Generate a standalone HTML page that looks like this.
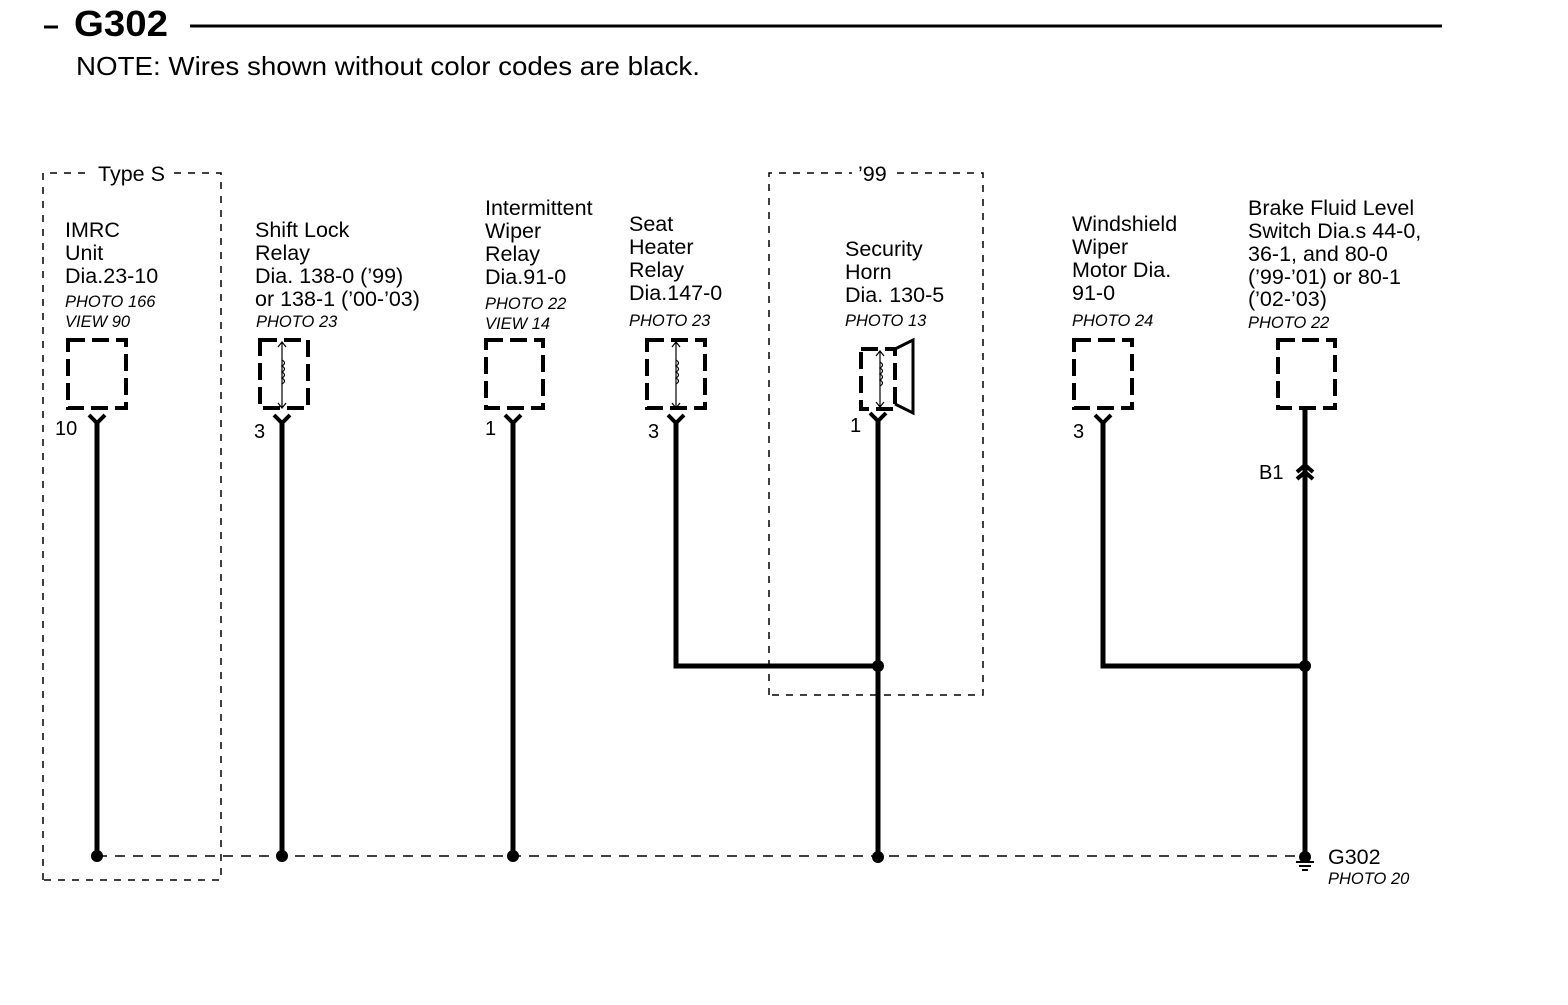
<!DOCTYPE html>
<html><head><meta charset="utf-8"><style>
body{margin:0;background:#fff}
svg text{font-family:"Liberation Sans",Arial,sans-serif;fill:#000}
.t{font-size:21.5px}
.p{font-size:16.5px;font-style:italic}
.n{font-size:20px}
</style></head><body>
<svg width="1568" height="1000" viewBox="0 0 1568 1000" xmlns="http://www.w3.org/2000/svg">
<line x1="44" y1="27" x2="58" y2="27" stroke="#000" stroke-width="3"/>
<text x="74" y="36" style="font-size:36px;font-weight:bold" textLength="94" lengthAdjust="spacingAndGlyphs">G302</text>
<line x1="190" y1="26" x2="1442" y2="26" stroke="#000" stroke-width="3"/>
<text x="76" y="75" style="font-size:26px" textLength="624" lengthAdjust="spacingAndGlyphs">NOTE: Wires shown without color codes are black.</text>

<g fill="none" stroke="#000" stroke-width="1.5" stroke-dasharray="7 7">
<path d="M43 880 V173 H88 M174 173 H221 V880 H43"/>
<path d="M769 695 V173 H852 M897 173 H983 V695 H769"/>
</g>
<text x="98" y="181" class="t">Type S</text>
<text x="858" y="181" class="t">’99</text>

<text x="65" y="237" class="t">IMRC</text><text x="65" y="260" class="t">Unit</text><text x="65" y="283" class="t">Dia.23-10</text>
<text x="255" y="237" class="t">Shift Lock</text><text x="255" y="260" class="t">Relay</text><text x="255" y="283" class="t">Dia. 138-0 (’99)</text><text x="255" y="306" class="t">or 138-1 (’00-’03)</text>
<text x="485" y="215" class="t">Intermittent</text><text x="485" y="238" class="t">Wiper</text><text x="485" y="261" class="t">Relay</text><text x="485" y="284" class="t">Dia.91-0</text>
<text x="629" y="231" class="t">Seat</text><text x="629" y="254" class="t">Heater</text><text x="629" y="277" class="t">Relay</text><text x="629" y="300" class="t">Dia.147-0</text>
<text x="845" y="256" class="t">Security</text><text x="845" y="279" class="t">Horn</text><text x="845" y="302" class="t">Dia. 130-5</text>
<text x="1072" y="231" class="t">Windshield</text><text x="1072" y="254" class="t">Wiper</text><text x="1072" y="277" class="t">Motor Dia.</text><text x="1072" y="300" class="t">91-0</text>
<text x="1248" y="215" class="t">Brake Fluid Level</text><text x="1248" y="238" class="t">Switch Dia.s 44-0,</text><text x="1248" y="261" class="t">36-1, and 80-0</text><text x="1248" y="284" class="t">(’99-’01) or 80-1</text><text x="1248" y="306" class="t">(’02-’03)</text>

<text x="65" y="307" class="p">PHOTO 166</text><text x="65" y="327" class="p">VIEW 90</text>
<text x="256" y="327" class="p">PHOTO 23</text>
<text x="485" y="309" class="p">PHOTO 22</text><text x="485" y="329" class="p">VIEW 14</text>
<text x="629" y="326" class="p">PHOTO 23</text>
<text x="845" y="326" class="p">PHOTO 13</text>
<text x="1072" y="326" class="p">PHOTO 24</text>
<text x="1248" y="328" class="p">PHOTO 22</text>

<g fill="none" stroke="#000" stroke-width="4" stroke-dasharray="17 7">
<rect x="68" y="340" width="58" height="68"/>
<rect x="260" y="340" width="48" height="68"/>
<rect x="486" y="340" width="57" height="68"/>
<rect x="647" y="340" width="58" height="68"/>
<rect x="1074" y="340" width="58" height="68"/>
<rect x="1278" y="340" width="57" height="68"/>
<rect x="861" y="349" width="34" height="60"/>
</g>
<path d="M895 349 L913 340 V413 L895 404" fill="none" stroke="#000" stroke-width="3"/>
<g fill="none" stroke="#000" stroke-width="1.2">
<path d="M282 342 V408 M278 347 L282 342 L286 347 M278 403 L282 408 L286 403"/>
<path d="M282 360 q5 3 0 6 q5 3 0 6 q5 3 0 6 q5 3 0 6"/>
<path d="M676 342 V408 M672 347 L676 342 L680 347 M672 403 L676 408 L680 403"/>
<path d="M676 360 q5 3 0 6 q5 3 0 6 q5 3 0 6 q5 3 0 6"/>
<path d="M880 351 V407 M876 356 L880 351 L884 356 M876 402 L880 407 L884 402"/>
<path d="M880 362 q5 3 0 6 q5 3 0 6 q5 3 0 6 q5 3 0 6"/>
</g>

<text x="55" y="435" class="n">10</text>
<text x="254" y="438" class="n">3</text>
<text x="485" y="435" class="n">1</text>
<text x="648" y="438" class="n">3</text>
<text x="850" y="432" class="n">1</text>
<text x="1073" y="438" class="n">3</text>
<text x="1259" y="479" class="n">B1</text>

<g fill="none" stroke="#000" stroke-width="5">
<path d="M97 420 V856"/><path d="M282 420 V856"/><path d="M513 420 V856"/>
<path d="M676 420 V666 H878"/><path d="M878 418 V856"/>
<path d="M1103 420 V666 H1305"/><path d="M1305 408 V856"/>
</g>
<g fill="none" stroke="#000" stroke-width="4">
<path d="M89 415 L97 423 L105 415"/><path d="M274 415 L282 423 L290 415"/>
<path d="M505 415 L513 423 L521 415"/><path d="M668 415 L676 423 L684 415"/>
<path d="M870 413 L878 421 L886 413"/><path d="M1095 415 L1103 423 L1111 415"/>
<path d="M1297 472 L1305 465 L1313 472 M1297 479 L1305 472 L1313 479"/>
</g>
<line x1="97" y1="856" x2="1300" y2="856" stroke="#000" stroke-width="1.5" stroke-dasharray="10 8"/>
<g fill="#000">
<circle cx="97" cy="856" r="6"/><circle cx="282" cy="856" r="6"/><circle cx="513" cy="856" r="6"/><circle cx="878" cy="857" r="6"/>
<circle cx="878" cy="666" r="6"/><circle cx="1305" cy="666" r="6"/>
<circle cx="1305" cy="857" r="6"/>
</g>
<g stroke="#000" stroke-width="2"><line x1="1296" y1="862" x2="1314" y2="862"/><line x1="1299" y1="866" x2="1311" y2="866"/><line x1="1302" y1="870" x2="1308" y2="870"/></g>
<text x="1328" y="864" class="t">G302</text>
<text x="1328" y="884" class="p">PHOTO 20</text>
</svg>
</body></html>
